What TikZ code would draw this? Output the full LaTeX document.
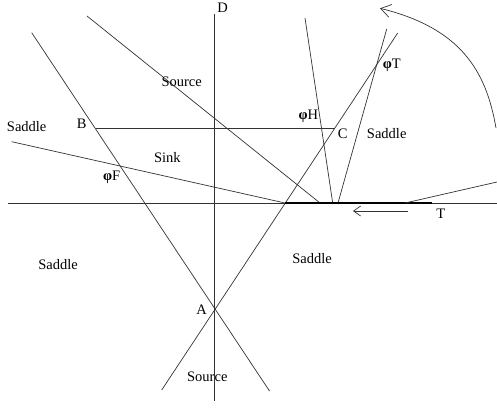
\documentclass[tikz,border=0pt]{standalone}
\usepackage{fontspec}
\setmainfont{Liberation Serif}
\usetikzlibrary{arrows.meta}
\newcommand{\myphi}{{\bfseries φ}}
\begin{document}
\begin{tikzpicture}[x=1pt,y=-1pt,
  ln/.style={draw=black!80,line width=0.7pt},
  thick seg/.style={draw=black,line width=2.6pt},
  lbl/.style={inner sep=0pt,font=\fontsize{14.5}{16}\selectfont},
  arr/.style={ln,-{Straight Barb[length=7pt,width=10pt,line width=0.7pt]}},
  carr/.style={ln,-{Straight Barb[length=10pt,width=13pt,line width=0.7pt]}}]
\useasboundingbox (0,0) rectangle (497,408);
% axes
\coordinate (Dtop) at (214,14);
\coordinate (Dbot) at (214,401);
\coordinate (Hl) at (8,203);
\coordinate (Hr) at (497,203);
\draw[ln] (Dtop) -- (Dbot);
\draw[ln] (Hl) -- (Hr);
% lines
\coordinate (L1a) at (31.7,32.7);
\coordinate (L1b) at (269.5,391);
\coordinate (L2a) at (397.7,33);
\coordinate (L2b) at (161.7,390);
\coordinate (B) at (95.5,128);
\coordinate (C) at (335,128);
\coordinate (Sa) at (87,16);
\coordinate (Sb) at (320,203);
\coordinate (Fa) at (11.7,141.7);
\coordinate (Fb) at (285,203);
\coordinate (Ha) at (305,18);
\coordinate (Hb) at (332.7,203);
\coordinate (Ta) at (386.7,29);
\coordinate (Tb) at (338,203);
\coordinate (K1) at (285,203);
\coordinate (K2) at (432,203);
\coordinate (Ra) at (405,203);
\coordinate (Rb) at (497,182);
\coordinate (Aa) at (408,211);
\coordinate (Ab) at (353,211);
\coordinate (Ca) at (496,128);
\coordinate (Cb) at (380,8.3);
\draw[ln] (L1a) -- (L1b);
\draw[ln] (L2a) -- (L2b);
\draw[ln] (B) -- (C);
\draw[ln] (Sa) -- (Sb);
\draw[ln] (Fa) -- (Fb);
\draw[ln] (Ha) -- (Hb);
\draw[ln] (Ta) -- (Tb);
\draw[thick seg] (K1) -- (K2);
\draw[ln] (Ra) -- (Rb);
\draw[arr] (Aa) -- (Ab);
\draw[carr] (Ca) .. controls (486,70) and (460,28) .. (Cb);
% labels
\node[lbl] (tD) at (222.5,7.5) {D};
\node[lbl] (tS1) at (181.7,81.5) {Source};
\node[lbl] (tSd1) at (26.7,126.5) {Saddle};
\node[lbl] (tB) at (81.7,124) {B};
\node[lbl] (tSink) at (167.3,157.5) {Sink};
\node[lbl] (tF) at (111.7,177.5) {\myphi F};
\node[lbl] (tH) at (308.3,116.5) {\myphi H};
\node[lbl] (tC) at (342.7,133.5) {C};
\node[lbl] (tSd2) at (386.7,134) {Saddle};
\node[lbl] (tT1) at (391.7,65.5) {\myphi T};
\node[lbl] (tT) at (440.7,213.5) {T};
\node[lbl] (tSd3) at (58,265) {Saddle};
\node[lbl] (tSd4) at (312,258.5) {Saddle};
\node[lbl] (tA) at (201.7,309.5) {A};
\node[lbl] (tS2) at (207.3,376.5) {Source};
\end{tikzpicture}
\end{document}
